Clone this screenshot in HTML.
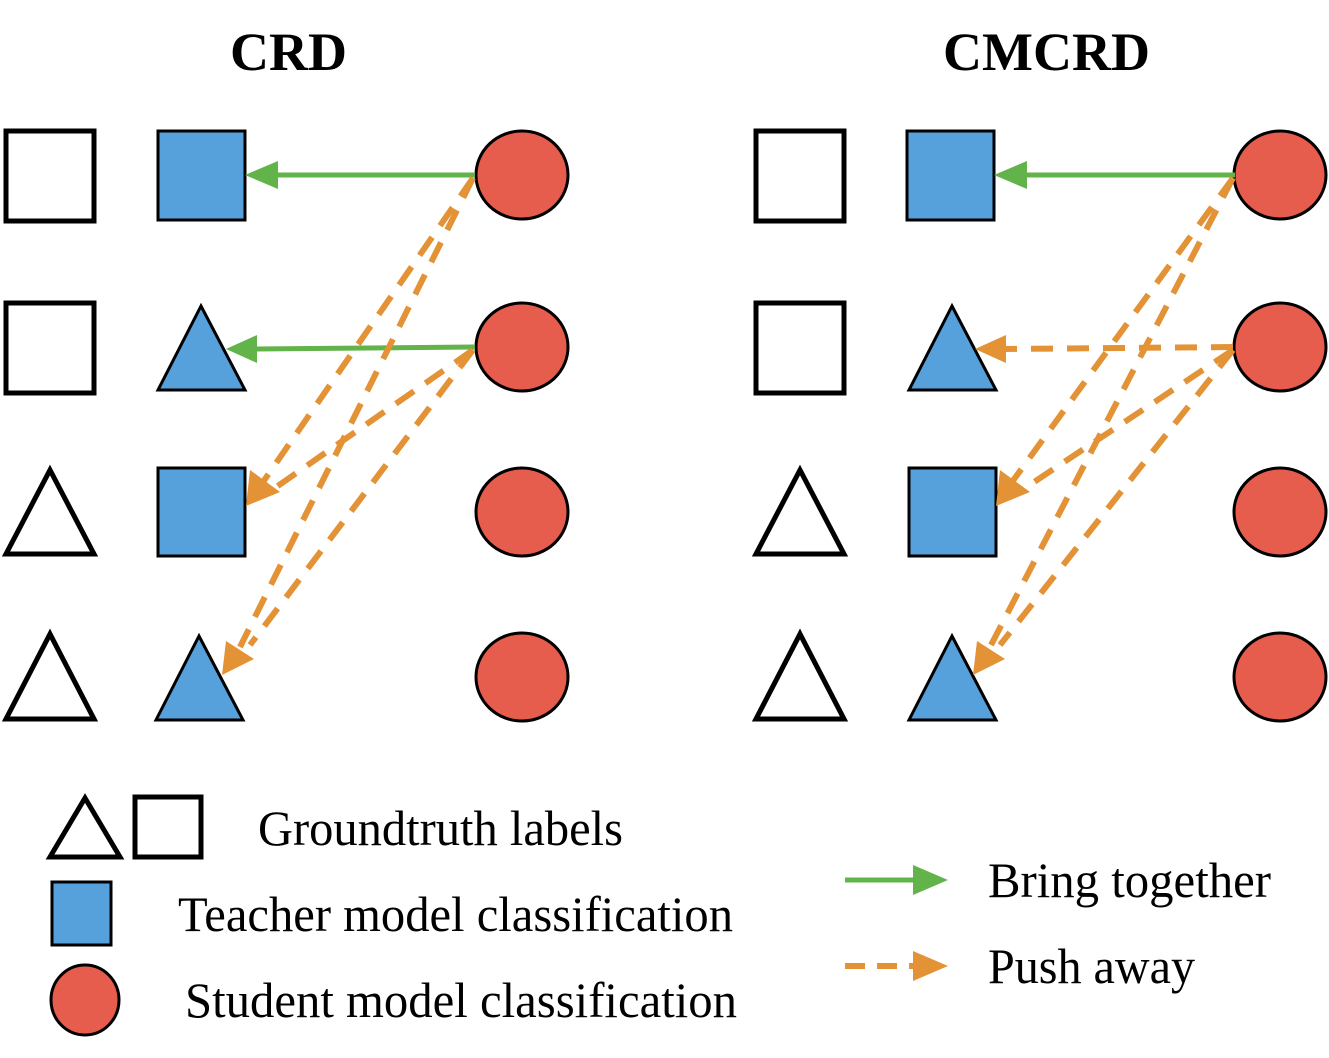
<!DOCTYPE html>
<html><head><meta charset="utf-8"><style>html,body{margin:0;padding:0;background:#fff}svg{display:block}</style></head>
<body>
<svg width="1329" height="1058" viewBox="0 0 1329 1058" xmlns="http://www.w3.org/2000/svg" font-family="Liberation Serif, serif">
<g stroke="#000" stroke-width="5">
<rect x="6" y="131" width="88" height="90" fill="#fff"/>
<rect x="6" y="303" width="88" height="90" fill="#fff"/>
<polygon points="50,470 94,554 6,554" fill="#fff"/>
<polygon points="50,634 94,719 6,719" fill="#fff"/>
<rect x="158" y="131" width="87" height="89" fill="#56a0dc" stroke-width="3"/>
<polygon points="201,306 245,390 158,390" fill="#56a0dc" stroke-width="3"/>
<rect x="158" y="468" width="87" height="88" fill="#56a0dc" stroke-width="3"/>
<polygon points="199,636 243,720 156,720" fill="#56a0dc" stroke-width="3"/>
<g fill="#e65c4d" stroke-width="3">
<ellipse cx="522" cy="175" rx="46" ry="44"/><ellipse cx="522" cy="347" rx="46" ry="44"/>
<ellipse cx="522" cy="512" rx="46" ry="44"/><ellipse cx="522" cy="677" rx="46" ry="44"/>
</g>
<rect x="756" y="131" width="88" height="90" fill="#fff"/>
<rect x="756" y="303" width="88" height="90" fill="#fff"/>
<polygon points="800,470 844,554 756,554" fill="#fff"/>
<polygon points="800,634 844,719 756,719" fill="#fff"/>
<rect x="907" y="131" width="87" height="89" fill="#56a0dc" stroke-width="3"/>
<polygon points="952,306 996,390 909,390" fill="#56a0dc" stroke-width="3"/>
<rect x="909" y="468" width="87" height="88" fill="#56a0dc" stroke-width="3"/>
<polygon points="952,636 996,720 909,720" fill="#56a0dc" stroke-width="3"/>
<g fill="#e65c4d" stroke-width="3">
<ellipse cx="1280" cy="175" rx="46" ry="44"/><ellipse cx="1280" cy="347" rx="46" ry="44"/>
<ellipse cx="1280" cy="512" rx="46" ry="44"/><ellipse cx="1280" cy="677" rx="46" ry="44"/>
</g>
<polygon points="85,798 120,857 50,857" fill="#fff"/>
<rect x="135" y="797" width="66" height="60" fill="#fff"/>
<rect x="52" y="882" width="59" height="63" fill="#56a0dc" stroke-width="3"/>
<ellipse cx="85" cy="1000" rx="34" ry="35" fill="#e65c4d" stroke-width="3"/>
</g>
<g stroke-width="5" fill="none">
<line x1="475" y1="175" x2="275" y2="175" stroke="#62b34a"/>
<line x1="475" y1="347" x2="256" y2="349" stroke="#62b34a"/>
<line x1="1235" y1="175" x2="1025" y2="175" stroke="#62b34a"/>
<g stroke="#e39235" stroke-width="6" stroke-dasharray="22,14">
<line x1="473" y1="178" x2="263" y2="482"/>
<line x1="473" y1="178" x2="240" y2="647"/>
<line x1="473" y1="350" x2="272" y2="490"/>
<line x1="473" y1="350" x2="250" y2="645"/>
<line x1="1233" y1="347" x2="1005" y2="349"/>
<line x1="1233" y1="178" x2="1012" y2="482"/>
<line x1="1233" y1="178" x2="990" y2="647"/>
<line x1="1233" y1="350" x2="1022" y2="490"/>
<line x1="1233" y1="350" x2="1000" y2="645"/>
</g>
<line x1="845" y1="880" x2="915" y2="880" stroke="#62b34a"/>
<line x1="845" y1="966" x2="915" y2="966" stroke="#e39235" stroke-width="6" stroke-dasharray="20,12"/>
</g>
<g fill="#62b34a">
<polygon points="245,175 278,161 278,189"/>
<polygon points="226,349 257,335 257,363"/>
<polygon points="994,175 1027,161 1027,189"/>
<polygon points="948,880 913,865 913,895"/>
</g>
<g fill="#e39235">
<polygon points="246,506 250,470 280,492"/>
<polygon points="222,675 226,641 254,659"/>
<polygon points="975,349 1006,335 1006,363"/>
<polygon points="996,506 1000,470 1030,492"/>
<polygon points="973,675 977,641 1005,659"/>
<polygon points="948,966 913,951 913,981"/>
</g>
<g fill="#000">
<text x="230" y="70" font-size="54" font-weight="bold" textLength="117" lengthAdjust="spacingAndGlyphs">CRD</text>
<text x="943" y="70" font-size="54" font-weight="bold" textLength="207" lengthAdjust="spacingAndGlyphs">CMCRD</text>
<text x="258" y="845" font-size="50" textLength="365" lengthAdjust="spacingAndGlyphs">Groundtruth labels</text>
<text x="178" y="931" font-size="50" textLength="555" lengthAdjust="spacingAndGlyphs">Teacher model classification</text>
<text x="185" y="1017" font-size="50" textLength="552" lengthAdjust="spacingAndGlyphs">Student model classification</text>
<text x="988" y="897" font-size="50" textLength="283" lengthAdjust="spacingAndGlyphs">Bring together</text>
<text x="988" y="983" font-size="50" textLength="207" lengthAdjust="spacingAndGlyphs">Push away</text>
</g>
</svg>
</body></html>
